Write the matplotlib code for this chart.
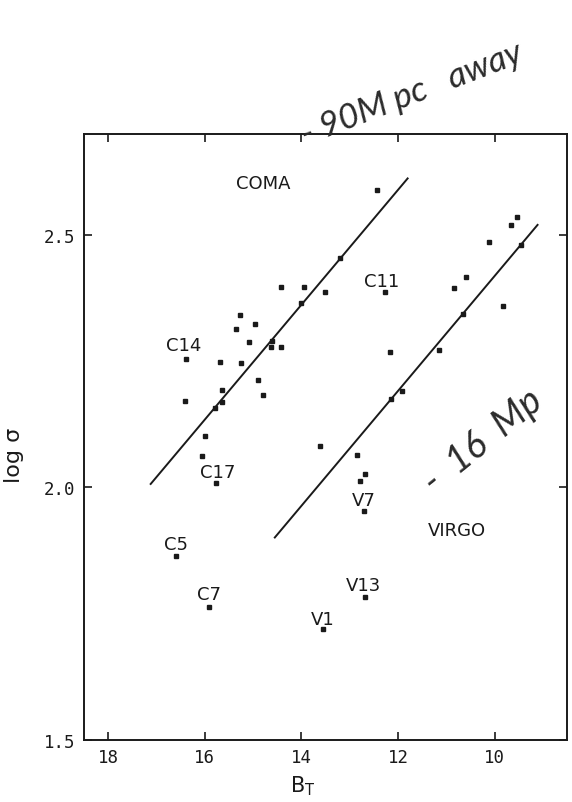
import matplotlib
matplotlib.use("Agg")
import matplotlib.pyplot as plt

# Coma cluster galaxies: total blue magnitude and log velocity dispersion
coma_bt = [12.44, 13.19, 14.43, 13.94, 13.51, 12.27, 14.01, 15.28, 14.96, 15.36,
           15.09, 14.60, 14.63, 14.43, 16.38, 15.69, 15.24, 14.89, 15.64, 14.79,
           16.41, 15.64, 15.79, 15.99, 16.06, 15.76, 16.60, 15.92]
coma_logs = [2.589, 2.454, 2.398, 2.398, 2.387, 2.388, 2.366, 2.342, 2.323, 2.313,
             2.289, 2.290, 2.279, 2.278, 2.254, 2.249, 2.246, 2.213, 2.193, 2.183,
             2.171, 2.169, 2.157, 2.102, 2.062, 2.009, 1.864, 1.764]

# Virgo cluster galaxies
virgo_bt = [9.54, 9.67, 10.11, 9.46, 10.60, 10.85, 9.83, 10.65, 12.17, 11.16,
            11.92, 12.14, 13.62, 12.84, 12.69, 12.78, 12.71, 12.69, 13.56]
virgo_logs = [2.535, 2.520, 2.486, 2.480, 2.417, 2.396, 2.360, 2.343, 2.268, 2.272,
              2.191, 2.175, 2.082, 2.064, 2.026, 2.013, 1.954, 1.783, 1.720]

# Fitted relations (end points)
coma_fit_bt = [17.12, 11.80]
coma_fit_logs = [2.007, 2.612]
virgo_fit_bt = [14.55, 9.11]
virgo_fit_logs = [1.901, 2.520]

# Named galaxies and cluster names
label_text = ["COMA", "C11", "C14", "C17", "V7", "VIRGO", "C5", "V13", "C7", "V1"]
label_bt = [14.78, 12.34, 16.44, 15.74, 12.71, 10.77, 16.59, 12.71, 15.92, 13.56]
label_logs = [2.603, 2.409, 2.282, 2.030, 1.975, 1.915, 1.889, 1.806, 1.790, 1.740]

x_ticks = [18, 16, 14, 12, 10]
y_ticks = [1.5, 2.0, 2.5]
y_tick_labels = ["1.5", "2.0", "2.5"]

mono = "DejaVu Sans Mono"
ink = "#1a1a1a"
pen = "#2b2b2b"
hand = ["Lato", "DejaVu Sans"]

fig = plt.figure(figsize=(5.72, 8.03), dpi=100)
ax = fig.add_axes([0.1469, 0.0772, 0.8444, 0.7547])

ax.plot(coma_fit_bt, coma_fit_logs, color=ink, lw=1.4)
ax.plot(virgo_fit_bt, virgo_fit_logs, color=ink, lw=1.4)
ax.plot(coma_bt, coma_logs, ls="none", marker="s", ms=3.5, color=ink, mec=ink)
ax.plot(virgo_bt, virgo_logs, ls="none", marker="s", ms=3.5, color=ink, mec=ink)

for t, bx, ly in zip(label_text, label_bt, label_logs):
    ax.text(bx, ly, t, ha="center", va="center", fontsize=13,
            family="DejaVu Sans", color=ink)

ax.set_xlim(18.5, 8.5)
ax.set_ylim(1.5, 2.70)
ax.set_xticks(x_ticks)
ax.set_xticklabels([str(v) for v in x_ticks], family=mono, fontsize=12.5, color=ink)
ax.set_yticks(y_ticks)
ax.set_yticklabels(y_tick_labels, family=mono, fontsize=12.5, color=ink)
ax.tick_params(direction="in", length=6, width=1.2, top=True, right=True,
               colors=ink, pad=6)
for s in ax.spines.values():
    s.set_linewidth(1.4)
    s.set_color(ink)

ax.set_xlabel(r"B$_\mathrm{T}$", fontsize=15, color=ink)
ax.xaxis.set_label_coords(0.453, -0.055)
ax.set_ylabel("log σ", fontsize=16, color=ink, family="DejaVu Sans")
ax.yaxis.set_label_coords(-0.125, 0.472)

# handwritten distance notes
fig.text(0.519, 0.812, "- 90M pc   away", rotation=21, fontsize=25,
         fontstyle="italic", fontweight="normal", color=pen,
         ha="left", va="bottom", family=hand)
fig.text(0.728, 0.377, "-  16  Mp", rotation=39, fontsize=27,
         fontstyle="italic", fontweight="normal", color=pen,
         ha="left", va="bottom", family=hand)

fig.savefig("out.png", dpi=100, facecolor="white")
